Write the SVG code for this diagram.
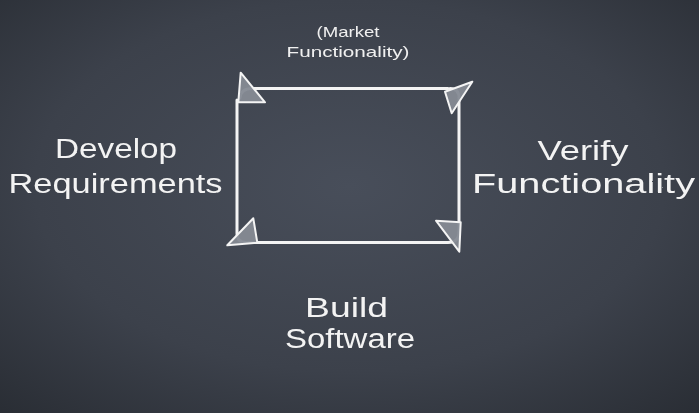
<svg xmlns="http://www.w3.org/2000/svg" width="699" height="413" viewBox="0 0 699 413">
  <defs>
    <radialGradient id="bg" cx="0.5" cy="0.45" r="0.75">
      <stop offset="0" stop-color="#484e5a"/>
      <stop offset="0.6" stop-color="#3c414b"/>
      <stop offset="1" stop-color="#292d34"/>
    </radialGradient>
    <filter id="chalk" x="-5%" y="-5%" width="110%" height="110%">
      <feTurbulence type="fractalNoise" baseFrequency="1.2" numOctaves="1" seed="3" result="n"/>
      <feDisplacementMap in="SourceGraphic" in2="n" scale="1.6" xChannelSelector="R" yChannelSelector="G"/>
    </filter>
    <style>
      .big { font-family: "Liberation Sans", Arial, sans-serif; font-size: 27px; fill: #f3f3f3; text-anchor: middle; }
      .small { font-family: "Liberation Sans", Arial, sans-serif; font-size: 15px; fill: #f0f0f0; text-anchor: middle; }
      .edge { fill: none; stroke: #f4f4f4; stroke-width: 3; stroke-linecap: round; stroke-linejoin: round; }
      .head { fill: #858a93; fill-opacity: 0.95; stroke: #f4f4f4; stroke-width: 2; stroke-linejoin: round; }
    </style>
  </defs>
  <rect x="0" y="0" width="699" height="413" fill="url(#bg)"/>

  <g id="connectors" filter="url(#chalk)">
    <path class="edge" d="M246,242.5 Q237,242.5 237,233 L237,100"/>
    <path class="edge" d="M240,98 Q241,88.5 252,88.5 L448,88.5"/>
    <path class="edge" d="M450,88.5 Q459,88.5 459,98 L459,232"/>
    <path class="edge" d="M459,232 Q459,242.5 448,242.5 L248,242.5"/>
    <polygon class="head" points="240.7,72.7 265,102.3 238.3,102.3"/>
    <polygon class="head" points="472.3,81.7 445,91.7 451.7,113.3"/>
    <polygon class="head" points="436,220.7 460.7,222.3 459.3,251.7"/>
    <polygon class="head" points="253.3,218.3 257.3,242.7 227.3,245.3"/>
  </g>

  <g id="market" filter="url(#chalk)">
    <text class="small" x="348" y="37" textLength="63" lengthAdjust="spacingAndGlyphs">(Market</text>
    <text class="small" x="348" y="57" textLength="123" lengthAdjust="spacingAndGlyphs">Functionality)</text>
  </g>

  <g id="develop" filter="url(#chalk)">
    <text class="big" x="116" y="158" textLength="122" lengthAdjust="spacingAndGlyphs">Develop</text>
    <text class="big" x="115.5" y="193" textLength="214" lengthAdjust="spacingAndGlyphs">Requirements</text>
  </g>

  <g id="verify" filter="url(#chalk)">
    <text class="big" x="583" y="160" textLength="91" lengthAdjust="spacingAndGlyphs">Verify</text>
    <text class="big" x="583.5" y="193" textLength="223" lengthAdjust="spacingAndGlyphs">Functionality</text>
  </g>

  <g id="build" filter="url(#chalk)">
    <text class="big" x="346.5" y="317" textLength="83" lengthAdjust="spacingAndGlyphs">Build</text>
    <text class="big" x="350" y="348" textLength="130" lengthAdjust="spacingAndGlyphs">Software</text>
  </g>
</svg>
